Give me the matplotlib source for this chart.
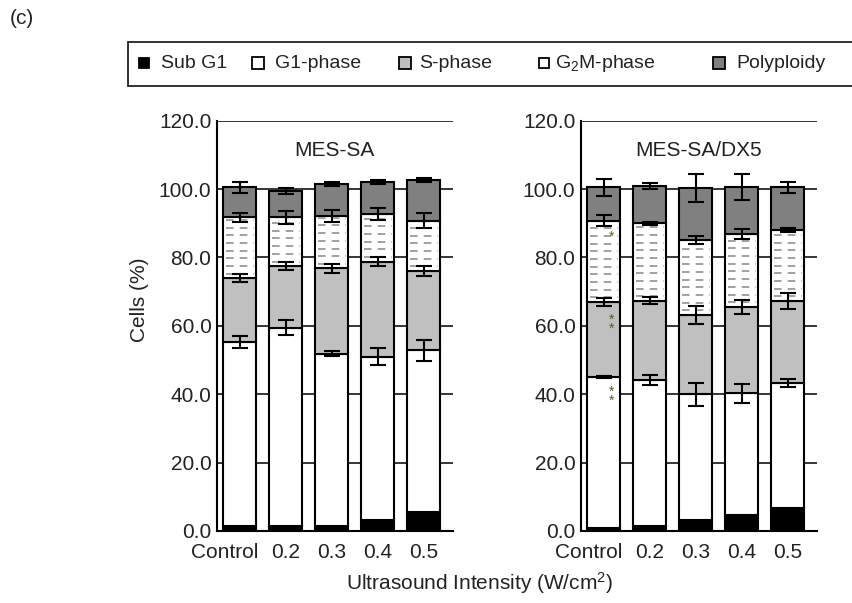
import numpy as np
import matplotlib
matplotlib.use("Agg")
import matplotlib.pyplot as plt
from matplotlib.patches import Rectangle

plt.rcParams["font.family"] = ["Liberation Sans", "DejaVu Sans"]
plt.rcParams["mathtext.fontset"] = "custom"
plt.rcParams["mathtext.rm"] = "Liberation Sans"
plt.rcParams["mathtext.it"] = "Liberation Sans"

# x categories
categories = ["Control", "0.2", "0.3", "0.4", "0.5"]
phases = ["Sub G1", "G1-phase", "S-phase", "G$_2$M-phase", "Polyploidy"]

# MES-SA, percent of cells per phase
mes_sub = [1.5, 1.5, 1.5, 3.2, 5.5]
mes_g1 = [53.8, 58.0, 50.3, 47.8, 47.4]
mes_s = [18.6, 18.0, 25.0, 27.8, 23.2]
mes_g2m = [17.8, 14.2, 15.4, 13.9, 14.6]
mes_poly = [8.8, 7.8, 9.3, 9.5, 11.9]
mes_g1_err = [1.7, 2.3, 0.7, 2.4, 3.1]
mes_s_err = [1.2, 1.3, 1.2, 1.2, 1.4]
mes_g2m_err = [1.2, 2.0, 1.7, 1.75, 2.2]
mes_poly_err = [1.7, 0.9, 0.6, 0.6, 0.5]

# MES-SA/DX5
dx5_sub = [1.0, 1.6, 3.2, 4.7, 6.6]
dx5_g1 = [44.1, 42.6, 36.8, 35.6, 36.6]
dx5_s = [21.9, 23.1, 23.2, 25.3, 24.1]
dx5_g2m = [23.7, 22.7, 21.9, 21.2, 20.7]
dx5_poly = [9.8, 10.9, 15.1, 13.9, 12.5]
dx5_g1_err = [0.3, 1.5, 3.4, 2.8, 1.2]
dx5_s_err = [1.2, 1.0, 2.6, 2.1, 2.3]
dx5_g2m_err = [1.6, 0.4, 1.1, 1.4, 0.6]
dx5_poly_err = [2.5, 1.0, 4.1, 3.8, 1.7]

FILLS = ["black", "white", "#c0c0c0", "white", "#808080"]
BAR_W = 0.72
TXT = "#222222"


def add_dashes(ax, patch):
    """ fill a bar with rows of short grey dashes, clipped to the bar """
    x0, y0 = patch.get_x(), patch.get_y()
    w, h = patch.get_width(), patch.get_height()
    rows = np.arange(y0 + 1.3, y0 + h - 0.6, 2.25)
    lc = ax.hlines(rows, x0 + 0.07, x0 + w - 0.04, colors="#9a9a9a",
                   linestyles=(0, (4.2, 3.4)), linewidth=1.3, zorder=1.5)
    lc.set_clip_path(patch)


def plot_panel(ax, title, segs, errs):
    x = np.arange(len(categories))
    bottom = np.zeros(len(categories))
    for i, seg in enumerate(segs):
        seg = np.array(seg)
        bars = ax.bar(x, seg, BAR_W, bottom=bottom, color=FILLS[i],
                      edgecolor="black", linewidth=1.5, zorder=1)
        if i == 3:
            for p in bars.patches:
                add_dashes(ax, p)
        bottom = bottom + seg
        if i > 0:
            ax.errorbar(x, bottom, yerr=errs[i - 1], fmt="none", ecolor="black",
                        elinewidth=1.5, capsize=6, capthick=1.5, zorder=3)

    ax.set_xlim(-0.49, 4.64)
    ax.set_ylim(0, 120)
    ax.set_yticks(np.arange(0, 121, 20))
    ax.set_yticklabels(["%.1f" % v for v in np.arange(0, 121, 20)])
    # "Control" label sits a bit to the left so it doesn't run into "0.2"
    ax.set_xticks(x + np.array([-0.32, 0, 0, 0, 0]))
    ax.set_xticklabels(categories)
    ax.tick_params(length=0, labelsize=15, colors=TXT)
    ax.tick_params(axis="x", pad=9)
    ax.tick_params(axis="y", pad=4)
    ax.yaxis.grid(True, color="black", linewidth=1.1)
    ax.set_axisbelow(True)
    for s in ["top", "right"]:
        ax.spines[s].set_visible(False)
    for s in ["left", "bottom"]:
        ax.spines[s].set_linewidth(1.5)
    ax.text(2.07, 111.4, title, ha="center", va="center", fontsize=15, color=TXT)


fig = plt.figure(figsize=(8.53, 6.03), dpi=100)
W, H = 853.0, 603.0
ax1 = fig.add_axes([217 / W, 1 - 531 / H, 236 / W, 410.3 / H])
ax2 = fig.add_axes([581 / W, 1 - 531 / H, 236 / W, 410.3 / H])

plot_panel(ax1, "MES-SA",
           [mes_sub, mes_g1, mes_s, mes_g2m, mes_poly],
           [mes_g1_err, mes_s_err, mes_g2m_err, mes_poly_err])
plot_panel(ax2, "MES-SA/DX5",
           [dx5_sub, dx5_g1, dx5_s, dx5_g2m, dx5_poly],
           [dx5_g1_err, dx5_s_err, dx5_g2m_err, dx5_poly_err])

# significance marks on the DX5 control bar
star_col = "#5b5b22"
ax2.text(0.17, 86.0, "*", ha="center", va="center", fontsize=10, color=star_col)
ax2.text(0.17, 60.5, "*\n*", ha="center", va="center", fontsize=10,
         color=star_col, linespacing=0.55)
ax2.text(0.17, 39.5, "*\n*", ha="center", va="center", fontsize=10,
         color=star_col, linespacing=0.55)

# labels
fig.text(140 / W, 1 - 300 / H, "Cells (%)", rotation=90, ha="center",
         va="center", fontsize=15, color=TXT)
fig.text(480 / W, 1 - 583 / H, "Ultrasound Intensity (W/cm$^2$)", ha="center",
         va="center", fontsize=15, color=TXT)
fig.text(10 / W, 1 - 19 / H, "(c)", ha="left", va="center", fontsize=15, color=TXT)

# legend box across the top
fig.patches.append(Rectangle((128 / W, 1 - 86 / H), 1.0, 44 / H,
                             transform=fig.transFigure, facecolor="white",
                             edgecolor="#222222", linewidth=1.3))
marker_x = [144, 258, 405, 544, 719]
text_x = [161, 275, 419, 555, 736]
marker_sz = [7, 9, 8, 6.5, 8]
ly = 1 - 63 / H
for i, name in enumerate(phases):
    fig.lines.append(plt.Line2D([marker_x[i] / W], [ly], marker="s",
                                markersize=marker_sz[i], markerfacecolor=FILLS[i],
                                markeredgecolor="black", markeredgewidth=1.3,
                                linestyle="none", transform=fig.transFigure))
    fig.text(text_x[i] / W, ly, name, ha="left", va="center",
             fontsize=14, color=TXT)

fig.savefig("out.png", dpi=100)
